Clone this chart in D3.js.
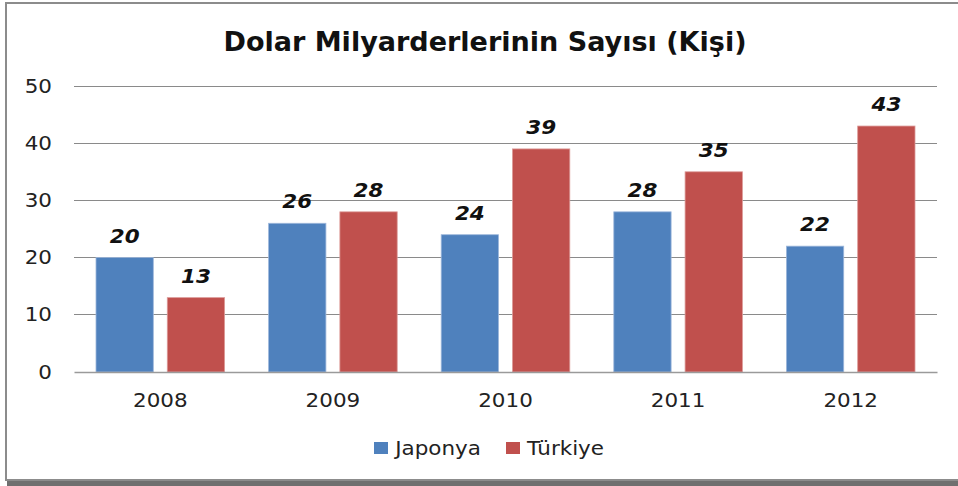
<!DOCTYPE html>
<html>
<head>
<meta charset="utf-8">
<script src="https://cdn.jsdelivr.net/npm/d3@7"></script>
<style>
  body { margin: 0; background: #fff; }
  svg { display: block; }
  .title { transform-box: fill-box; transform-origin: center; transform: scaleX(1.04); }
  .wide { transform-box: fill-box; transform-origin: center; transform: scaleX(1.13); }
  .wide-r { transform-box: fill-box; transform-origin: right center; transform: scaleX(1.13); }
  .wide-l { transform-box: fill-box; transform-origin: left center; transform: scaleX(1.13); }
</style>
</head>
<body>
<div id="chart"></div>
<script>
const years = ['2008', '2009', '2010', '2011', '2012']
const seriesNames = ['Japonya', 'Türkiye']
const japonya = [20, 26, 24, 28, 22]
const turkiye = [13, 28, 39, 35, 43]
const yTicks = [0, 10, 20, 30, 40, 50]
const colors = ['#4F81BD', '#C0504D']

const width = 958, height = 486
const margin = { left: 74, right: 21, top: 86, bottom: 114 }
const innerW = width - margin.left - margin.right
const innerH = height - margin.top - margin.bottom
const font = 'DejaVu Sans, Verdana, sans-serif'

const rows = years.map((y, i) => ({ year: y, values: [japonya[i], turkiye[i]] }))

const svg = d3.select('#chart').append('svg')
    .attr('width', width)
    .attr('height', height)

// frame + shadow
svg.append('rect')
    .attr('x', 7).attr('y', 480)
    .attr('width', width).attr('height', 6)
    .attr('fill', '#6f6f6f')
svg.append('rect')
    .attr('x', 6).attr('y', 3)
    .attr('width', width + 10).attr('height', 477)
    .attr('fill', '#fff')
    .attr('stroke', '#8c8c8c')
    .attr('stroke-width', 2)

svg.append('text')
    .attr('class', 'title')
    .attr('x', 485)
    .attr('y', 51)
    .attr('text-anchor', 'middle')
    .attr('font-family', font)
    .attr('font-weight', 'bold')
    .attr('font-size', 26)
    .attr('fill', '#111')
    .text('Dolar Milyarderlerinin Sayısı (Kişi)')

const g = svg.append('g')
    .attr('transform', 'translate(' + margin.left + ',' + margin.top + ')')

const x0 = d3.scaleBand().domain(years).range([0, innerW])
const x1 = d3.scaleBand().domain(seriesNames)
    .range([22, x0.bandwidth() - 22])
    .paddingInner(0.196)
const y = d3.scaleLinear().domain([0, 50]).range([innerH, 0])

// gridlines
g.append('g')
  .selectAll('line')
  .data(yTicks.filter(d => d > 0))
  .enter().append('line')
    .attr('x1', 0).attr('x2', innerW)
    .attr('y1', d => y(d)).attr('y2', d => y(d))
    .attr('stroke', '#8a8a8a')
    .attr('stroke-width', 1)
    .attr('shape-rendering', 'crispEdges')

// y axis labels
const yAxis = g.append('g')
    .call(d3.axisLeft(y).tickValues(yTicks).tickSize(0).tickPadding(22))
yAxis.select('.domain').remove()
yAxis.selectAll('text')
    .attr('class', 'wide-r')
    .attr('font-family', font)
    .attr('font-size', 19)
    .attr('fill', '#222')

// bars
const groups = g.append('g')
  .selectAll('g')
  .data(rows)
  .enter().append('g')
    .attr('transform', d => 'translate(' + x0(d.year) + ',0)')

groups.selectAll('rect')
  .data(d => d.values.map((v, i) => ({ key: seriesNames[i], value: v, i })))
  .enter().append('rect')
    .attr('x', d => x1(d.key))
    .attr('y', d => y(d.value))
    .attr('width', x1.bandwidth())
    .attr('height', d => innerH - y(d.value))
    .attr('fill', d => colors[d.i])
    .attr('stroke', d => d.i === 0 ? '#9db7db' : '#dc9a98')
    .attr('stroke-width', 0.8)

groups.selectAll('text')
  .data(d => d.values.map((v, i) => ({ key: seriesNames[i], value: v })))
  .enter().append('text')
    .attr('class', 'wide')
    .attr('x', d => x1(d.key) + x1.bandwidth() / 2)
    .attr('y', d => y(d.value) - 15)
    .attr('text-anchor', 'middle')
    .attr('font-family', font)
    .attr('font-weight', 'bold')
    .attr('font-style', 'italic')
    .attr('font-size', 19)
    .attr('fill', '#111')
    .text(d => d.value)

// x axis
const xAxis = g.append('g')
    .attr('transform', 'translate(0,' + innerH + ')')
    .call(d3.axisBottom(x0).tickSize(0).tickPadding(22))
xAxis.select('.domain')
    .attr('stroke', '#9a9a9a')
    .attr('stroke-width', 1.5)
xAxis.selectAll('text')
    .attr('class', 'wide')
    .attr('font-family', font)
    .attr('font-size', 19)
    .attr('fill', '#222')

// legend
const legendX = [374, 506]
const legend = svg.append('g')
  .selectAll('g')
  .data(seriesNames)
  .enter().append('g')
    .attr('transform', (d, i) => 'translate(' + legendX[i] + ',442)')
legend.append('rect')
    .attr('width', 14).attr('height', 12)
    .attr('fill', (d, i) => colors[i])
legend.append('text')
    .attr('class', 'wide-l')
    .attr('x', 21).attr('y', 13)
    .attr('font-family', font)
    .attr('font-size', 19)
    .attr('fill', '#222')
    .text(d => d)
</script>
</body>
</html>
